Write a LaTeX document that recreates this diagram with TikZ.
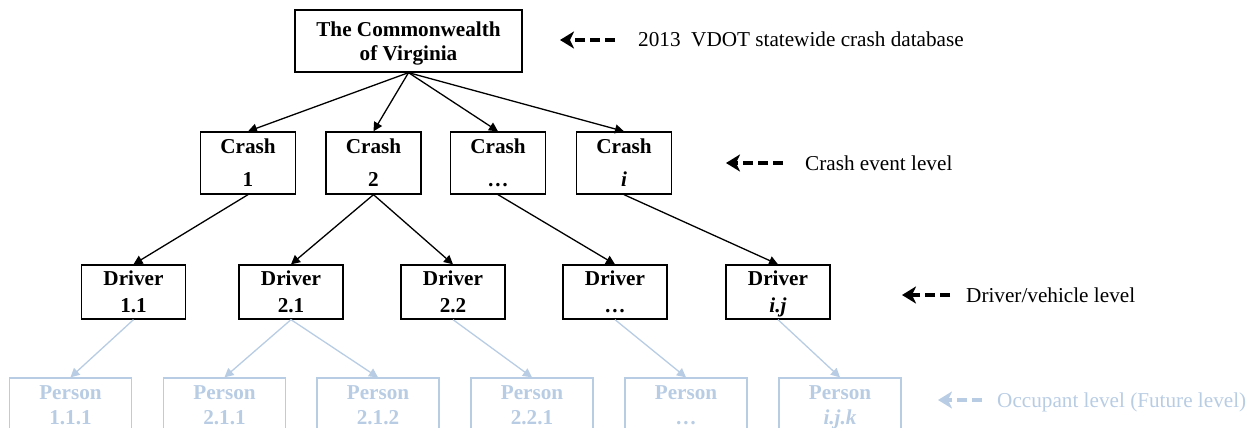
\documentclass[tikz,border=0pt]{standalone}
\usepackage{fontspec}
\setmainfont{Liberation Serif}
\usetikzlibrary{arrows.meta, positioning}
\definecolor{faded}{RGB}{184,204,228}

\begin{document}
\begin{tikzpicture}[
	x = 1pt, y = 1pt,
	> = {Triangle[length=9pt,width=9pt]},
	every node/.style = {font=\fontsize{21.2}{26}\selectfont},
	levelbox/.style = {draw, line width=1.3pt, align=center, inner sep=0pt, text depth=0pt,
		font=\bfseries\fontsize{21.2}{27}\selectfont},
	topbox/.style = {levelbox, minimum width=227pt, minimum height=62pt,
		font=\bfseries\fontsize{21.2}{24}\selectfont},
	crashbox/.style = {levelbox, minimum width=95pt, minimum height=62pt,
		font=\bfseries\fontsize{21.2}{33}\selectfont},
	driverbox/.style = {levelbox, minimum width=104pt, minimum height=54pt},
	personbox/.style = {levelbox, draw=faded, text=faded, minimum width=122pt, minimum height=54pt,
		font=\bfseries\fontsize{21.2}{25}\selectfont},
	link/.style = {->, line width=1.3pt},
	fadedlink/.style = {link, faded},
	note/.style = {anchor=west, inner sep=0pt, text height=14pt, text depth=0pt},
	legend/.style = {->, line width=3.5pt, dash pattern=on 10pt off 5pt,
		> = {Stealth[length=14pt,width=17pt,inset=4pt]}}
	]
	\useasboundingbox (0,0) rectangle (1259,-428);

	% levels
	\node[topbox] (va) at (408.5,-41) {The Commonwealth\\of Virginia};

	\node[crashbox] (c1) at (248,-163) {Crash\\1};
	\node[crashbox] (c2) at (373.5,-163) {Crash\\2};
	\node[crashbox] (c3) at (498,-163) {Crash\\…};
	\node[crashbox] (ci) at (624,-163) {Crash\\\textit{i}};

	\node[driverbox] (d11) at (133.5,-292) {Driver\\1.1};
	\node[driverbox] (d21) at (291,-292) {Driver\\2.1};
	\node[driverbox] (d22) at (453,-292) {Driver\\2.2};
	\node[driverbox] (d3) at (615,-292) {Driver\\…};
	\node[driverbox] (dij) at (778,-292) {Driver\\\textit{i.j}};

	\node[personbox] (p111) at (70.5,-405) {Person\\1.1.1};
	\node[personbox] (p211) at (224.5,-405) {Person\\2.1.1};
	\node[personbox] (p212) at (378,-405) {Person\\2.1.2};
	\node[personbox] (p221) at (532,-405) {Person\\2.2.1};
	\node[personbox] (p3) at (686,-405) {Person\\…};
	\node[personbox] (pijk) at (840,-405) {Person\\\textit{i.j.k}};

	\path[link]
	(va.south) edge (c1.north)
	(va.south) edge (c2.north)
	(va.south) edge (c3.north)
	(va.south) edge (ci.north)
	(c1.south) edge (d11.north)
	(c2.south) edge (d21.north)
	(c2.south) edge (d22.north)
	(c3.south) edge (d3.north)
	(ci.south) edge (dij.north);

	\path[fadedlink]
	(d11.south) edge (p111.north)
	(d21.south) edge (p211.north)
	(d21.south) edge (p212.north)
	(d22.south) edge (p221.north)
	(d3.south) edge (p3.north)
	(dij.south) edge (pijk.north);

	% level notes
	\node[note] (dbnote) at (638,-40) {2013~ VDOT statewide crash database};
	\node[note] (crashnote) at (805,-163) {Crash event level};
	\node[note] (drivernote) at (966,-295) {Driver/vehicle level};
	\node[note, text=faded] (occnote) at (997,-400) {Occupant level (Future level)};

	\coordinate (dbtip) at (560,-40);
	\coordinate (crashtip) at (726,-163);
	\coordinate (drivertip) at (902,-295);
	\coordinate (occtip) at (938,-400);

	\draw[legend] ([xshift=-23pt]dbnote.west) -- (dbtip);
	\draw[legend] ([xshift=-22pt]crashnote.west) -- (crashtip);
	\draw[legend] ([xshift=-16pt]drivernote.west) -- (drivertip);
	\draw[legend, faded] ([xshift=-15pt]occnote.west) -- (occtip);
\end{tikzpicture}
\end{document}
